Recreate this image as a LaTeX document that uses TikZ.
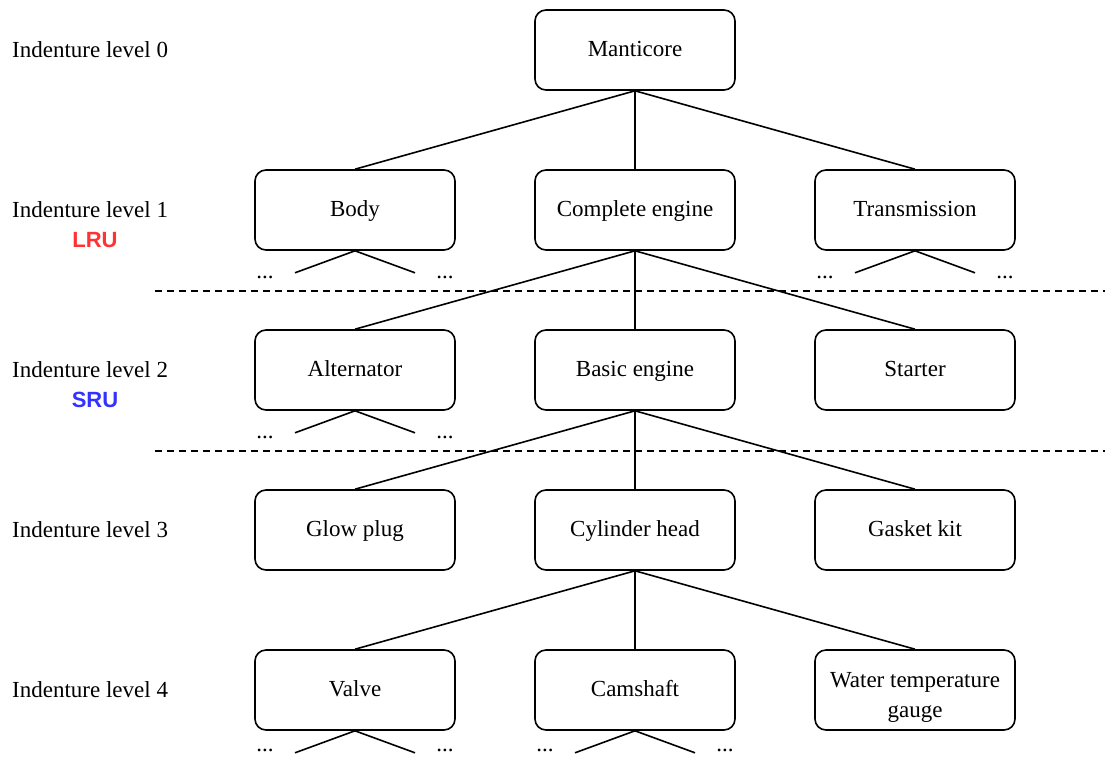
\documentclass[tikz,border=0pt]{standalone}
\usepackage{fontspec}
\setmainfont{Liberation Serif}
\newfontfamily\lblsans{Liberation Sans}
\definecolor{lrured}{HTML}{FF3333}
\definecolor{srublue}{HTML}{3333FF}
\begin{document}
\begin{tikzpicture}[x=1pt,y=-1pt,
  part/.style={draw, line width=1.6pt, rounded corners=11pt, minimum width=200pt, minimum height=80pt, align=center, inner sep=2pt, font=\fontsize{23}{30}\selectfont},
  lvl/.style={anchor=west, inner sep=0pt, font=\fontsize{23}{28}\selectfont},
  unit/.style={inner sep=0pt, font=\lblsans\bfseries\fontsize{22}{26}\selectfont},
  dots/.style={inner sep=0pt, font=\fontsize{23}{28}\selectfont},
  link/.style={line width=1.6pt},
  sep/.style={line width=1.6pt, dash pattern=on 7pt off 5pt}]
\useasboundingbox (0,0) rectangle (1105,758);
% level labels
\node[lvl] (l0) at (12,50) {Indenture level 0};
\node[lvl] (l1) at (12,210) {Indenture level 1};
\node[lvl] (l2) at (12,370) {Indenture level 2};
\node[lvl] (l3) at (12,530) {Indenture level 3};
\node[lvl] (l4) at (12,690) {Indenture level 4};
\node[unit, text=lrured] (lru) at (95,240) {LRU};
\node[unit, text=srublue] (sru) at (95,400) {SRU};
% parts
\node[part] (man) at (635,50) {\strut Manticore};
\node[part] (body) at (355,210) {\strut Body};
\node[part] (ceng) at (635,210) {\strut Complete engine};
\node[part] (trans) at (915,210) {\strut Transmission};
\node[part] (alt) at (355,370) {\strut Alternator};
\node[part] (beng) at (635,370) {\strut Basic engine};
\node[part] (start) at (915,370) {\strut Starter};
\node[part] (glow) at (355,530) {\strut Glow plug};
\node[part] (cyl) at (635,530) {\strut Cylinder head};
\node[part] (gask) at (915,530) {\strut Gasket kit};
\node[part] (valve) at (355,690) {\strut Valve};
\node[part] (cam) at (635,690) {\strut Camshaft};
\node[part] (wtg) at (915,690) {\rule{0pt}{29pt}Water temperature\\gauge};
% connectors
\foreach \c in {body,ceng,trans} \draw[link] (man.south) -- (\c.north);
\foreach \c in {alt,beng,start} \draw[link] (ceng.south) -- (\c.north);
\foreach \c in {glow,cyl,gask} \draw[link] (beng.south) -- (\c.north);
\foreach \c in {valve,cam,wtg} \draw[link] (cyl.south) -- (\c.north);
% separators
\coordinate (s1a) at (155,291); \coordinate (s1b) at (1105,291);
\coordinate (s2a) at (155,451); \coordinate (s2b) at (1105,451);
\draw[sep] (s1a) -- (s1b);
\draw[sep] (s2a) -- (s2b);
% stubs with ellipses
\foreach \p/\dy in {body/27,trans/27,alt/27,valve/20,cam/20}{
  \coordinate (\p-sl) at ([shift={(-60,22)}]\p.south);
  \coordinate (\p-sr) at ([shift={(60,22)}]\p.south);
  \draw[link] (\p-sl) -- (\p.south) -- (\p-sr);
  \node[dots] (\p-dl) at ([shift={(-90,\dy)}]\p.south) {...};
  \node[dots] (\p-dr) at ([shift={(90,\dy)}]\p.south) {...};
}
\end{tikzpicture}
\end{document}
